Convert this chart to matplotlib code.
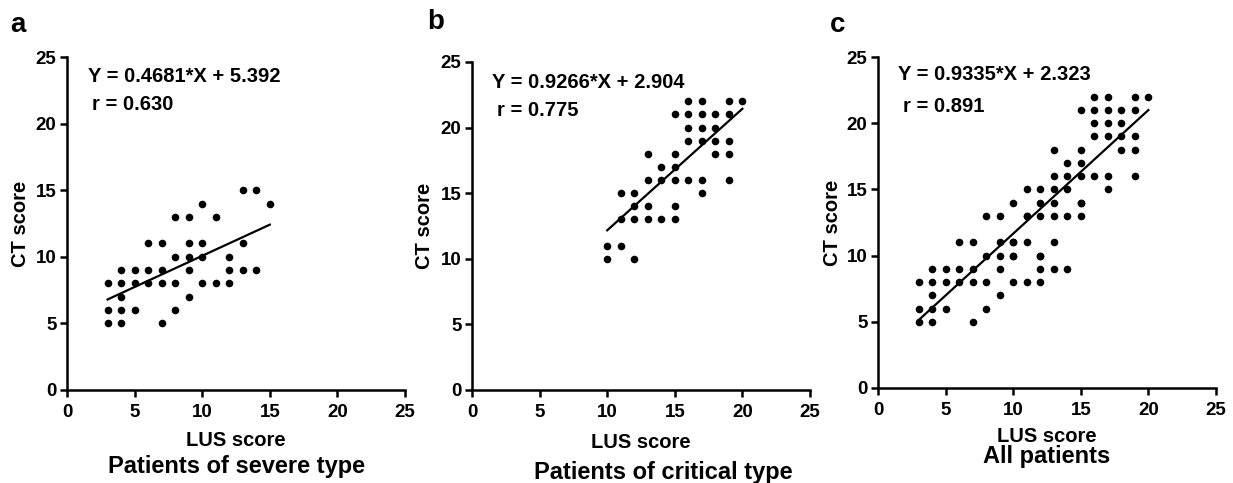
import matplotlib
matplotlib.use("Agg")
import matplotlib.pyplot as plt
import numpy as np

plt.rcParams['font.family'] = ['Liberation Sans', 'DejaVu Sans']
plt.rcParams['font.weight'] = 'bold'

# Panel a: patients of severe type (LUS score, CT score)
lus_severe = [3, 3, 3, 4, 4, 4, 4, 4, 5, 5, 5, 6, 6, 6, 7, 7, 7, 7,
              8, 8, 8, 8, 9, 9, 9, 9, 9, 10, 10, 10, 10, 11, 11,
              12, 12, 12, 13, 13, 13, 14, 14, 15]
ct_severe = [8, 6, 5, 9, 8, 7, 6, 5, 9, 8, 6, 11, 9, 8, 11, 9, 8, 5,
             13, 10, 8, 6, 13, 11, 10, 9, 7, 14, 11, 10, 8, 13, 8,
             10, 9, 8, 15, 11, 9, 15, 9, 14]

# Panel b: patients of critical type
lus_critical = [10, 10, 11, 11, 11, 12, 12, 12, 12, 13, 13, 13, 13,
                14, 14, 14, 15, 15, 15, 15, 15, 15, 16, 16, 16, 16, 16,
                17, 17, 17, 17, 17, 17, 18, 18, 18, 18, 19, 19, 19, 19, 19, 20]
ct_critical = [11, 10, 15, 13, 11, 15, 14, 13, 10, 18, 16, 14, 13,
               17, 16, 13, 21, 18, 17, 16, 14, 13, 22, 21, 20, 19, 16,
               22, 21, 20, 19, 16, 15, 21, 20, 19, 18, 22, 21, 19, 18, 16, 22]

# Panel c: all patients
lus_all = lus_severe + lus_critical
ct_all = ct_severe + ct_critical

slopes = [0.4681, 0.9266, 0.9335]
intercepts = [5.392, 2.904, 2.323]
r_values = ["0.630", "0.775", "0.891"]
panel_letters = ["a", "b", "c"]
titles = ["Patients of severe type", "Patients of critical type", "All patients"]
ticks = [0, 5, 10, 15, 20, 25]

W, H = 1233, 483
fig = plt.figure(figsize=(W / 100, H / 100), dpi=100)

def px(x, y):
    return x / W, 1 - y / H

# axes boxes in pixels: left, right, top, bottom
boxes = [(67, 405, 57, 390), (472, 810, 62, 390), (878, 1216, 57, 388)]
eq_pos = [(88, 76), (492, 82), (898, 74)]
r_pos = [(92, 104), (497, 110), (903, 106)]
xlabel_y = [440, 442, 437]
title_pos = [(237, 467), (663, 472), (1047, 457)]
ylabel_x = [20, 425, 832]
letter_pos = [(10, 25), (427, 22), (830, 25)]

datasets = [(lus_severe, ct_severe), (lus_critical, ct_critical), (lus_all, ct_all)]

for i, (xs, ys) in enumerate(datasets):
    l, r, t, b = boxes[i]
    ax = fig.add_axes([l / W, 1 - b / H, (r - l) / W, (b - t) / H])
    ax.scatter(xs, ys, s=30, color='black', zorder=3, clip_on=False, linewidths=0)
    xline = np.array([min(xs), max(xs)])
    ax.plot(xline, slopes[i] * xline + intercepts[i], color='black', lw=1.6, zorder=2)
    ax.set_xlim(0, 25)
    ax.set_ylim(0, 25)
    ax.set_xticks(ticks)
    ax.set_yticks(ticks)
    for s in ['top', 'right']:
        ax.spines[s].set_visible(False)
    for s in ['left', 'bottom']:
        ax.spines[s].set_linewidth(1.8)
    ax.tick_params(axis='both', direction='out', length=5, width=1.8, labelsize=13.5)
    ax.tick_params(axis='x', pad=5)
    ax.tick_params(axis='y', pad=2.5)
    for lab in ax.get_xticklabels() + ax.get_yticklabels():
        lab.set_fontweight('bold')

    cx = (l + r) / 2
    fig.text(*px(*eq_pos[i]), f"Y = {slopes[i]:.4f}*X + {intercepts[i]:.3f}",
             fontsize=14.5, fontweight='bold', ha='left', va='center')
    fig.text(*px(*r_pos[i]), f"r = {r_values[i]}",
             fontsize=14.5, fontweight='bold', ha='left', va='center')
    fig.text(*px(cx, xlabel_y[i]), "LUS score", fontsize=14.5, fontweight='bold',
             ha='center', va='center')
    fig.text(*px(*title_pos[i]), titles[i], fontsize=17, fontweight='bold',
             ha='center', va='center')
    fig.text(*px(ylabel_x[i], (t + b) / 2), "CT score", fontsize=14.5, fontweight='bold',
             ha='center', va='center', rotation=90)
    fig.text(*px(*letter_pos[i]), panel_letters[i], fontsize=20, fontweight='bold',
             ha='left', va='center')

fig.savefig("out.png", dpi=100)
